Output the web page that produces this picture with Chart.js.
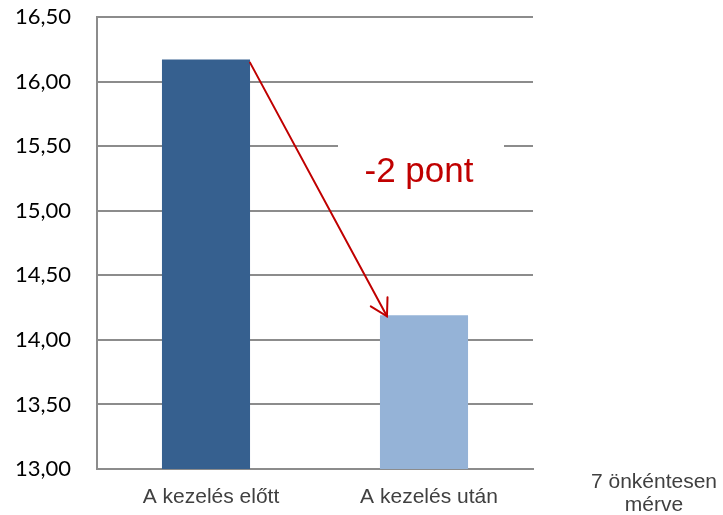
<!DOCTYPE html>
<html>
<head>
<meta charset="utf-8">
<script src="https://cdn.jsdelivr.net/npm/chart.js@4.4.1/dist/chart.umd.min.js"></script>
<style>
  html, body { margin: 0; padding: 0; background: #ffffff; }
  #wrap { width: 723px; height: 515px; position: relative; }
</style>
</head>
<body>
<div id="wrap"><canvas id="c"></canvas></div>
<script>
const categories = ['A kezelés előtt', 'A kezelés után'];
const values = [16.17, 14.19];
const barColors = ['#36608F', '#95B3D7'];
const yMin = 13.0;
const yMax = 16.5;
const yStep = 0.5;
const annotationText = '-2 pont';
const noteLines = ['7 önkéntesen', 'mérve'];

const gridColor = '#8c8c8c';

const annotationPlugin = {
  id: 'annot',
  beforeDatasetsDraw(chart) {
    const { ctx, scales } = chart;
    const x = scales.x, y = scales.y;
    const cx = x.getPixelForValue(1) - 4;
    const cy = y.getPixelForValue(15.3);
    ctx.save();
    ctx.fillStyle = '#ffffff';
    ctx.fillRect(cx - 82, cy - 30, 166, 58);
    ctx.restore();
  },
  afterDatasetsDraw(chart) {
    const { ctx, scales } = chart;
    const x = scales.x, y = scales.y;
    const meta = chart.getDatasetMeta(0);
    const b1 = meta.data[0], b2 = meta.data[1];
    const x1 = b1.x + b1.width / 2, y1 = y.getPixelForValue(values[0]) + 3;
    const x2 = b2.x - b2.width / 2 + 7, y2 = y.getPixelForValue(values[1]) + 1;
    ctx.save();
    ctx.strokeStyle = '#C00000';
    ctx.lineWidth = 2;
    ctx.lineCap = 'round';
    ctx.beginPath();
    ctx.moveTo(x1, y1);
    ctx.lineTo(x2, y2);
    ctx.stroke();
    const ang = Math.atan2(y2 - y1, x2 - x1);
    const L = 19, spread = Math.PI / 6;
    ctx.beginPath();
    ctx.moveTo(x2 - L * Math.cos(ang - spread), y2 - L * Math.sin(ang - spread));
    ctx.lineTo(x2, y2);
    ctx.lineTo(x2 - L * Math.cos(ang + spread), y2 - L * Math.sin(ang + spread));
    ctx.stroke();

    ctx.fillStyle = '#C00000';
    ctx.font = '35px "Liberation Sans", Arial, sans-serif';
    ctx.textAlign = 'center';
    ctx.textBaseline = 'alphabetic';
    ctx.fillText(annotationText, x.getPixelForValue(1) - 5, y.getPixelForValue(15.225));
    ctx.restore();
  },
  afterDraw(chart) {
    const { ctx, chartArea } = chart;
    ctx.save();
    ctx.fillStyle = '#404040';
    ctx.font = '21px "Liberation Sans", Arial, sans-serif';
    ctx.textAlign = 'center';
    ctx.textBaseline = 'alphabetic';
    const nx = chartArea.right + 121;
    ctx.fillText(noteLines[0], nx, chartArea.bottom + 19);
    ctx.fillText(noteLines[1], nx, chartArea.bottom + 42);
    ctx.restore();
  }
};

new Chart(document.getElementById('c'), {
  type: 'bar',
  data: {
    labels: categories,
    datasets: [{
      data: values,
      backgroundColor: barColors,
      borderWidth: 0,
      barPercentage: 0.404,
      categoryPercentage: 1.0
    }]
  },
  options: {
    responsive: true,
    maintainAspectRatio: false,
    animation: false,
    events: [],
    layout: { padding: { top: 17, right: 190, left: 0, bottom: 0 } },
    plugins: { legend: { display: false }, tooltip: { enabled: false } },
    scales: {
      y: {
        min: yMin,
        max: yMax,
        afterFit(scale) { scale.width = 97; scale.paddingTop = 0; scale.paddingBottom = 0; },
        ticks: {
          stepSize: yStep,
          padding: 26,
          color: '#000000',
          font: { family: 'Lato, "Open Sans", sans-serif', size: 22 },
          callback: (v) => Number(v).toFixed(2).replace('.', ',')
        },
        grid: { color: gridColor, lineWidth: 2, drawTicks: false, tickLength: 0 },
        border: { display: true, color: gridColor, width: 2 }
      },
      x: {
        afterFit(scale) { scale.height = 46; scale.paddingLeft = 0; scale.paddingRight = 0; },
        ticks: {
          padding: 16,
          labelOffset: 5,
          color: '#404040',
          font: { family: '"Liberation Sans", Arial, sans-serif', size: 21 }
        },
        grid: { display: false, drawTicks: false, tickLength: 0 },
        border: { display: true, color: gridColor, width: 2 }
      }
    }
  },
  plugins: [annotationPlugin]
});
</script>
</body>
</html>
